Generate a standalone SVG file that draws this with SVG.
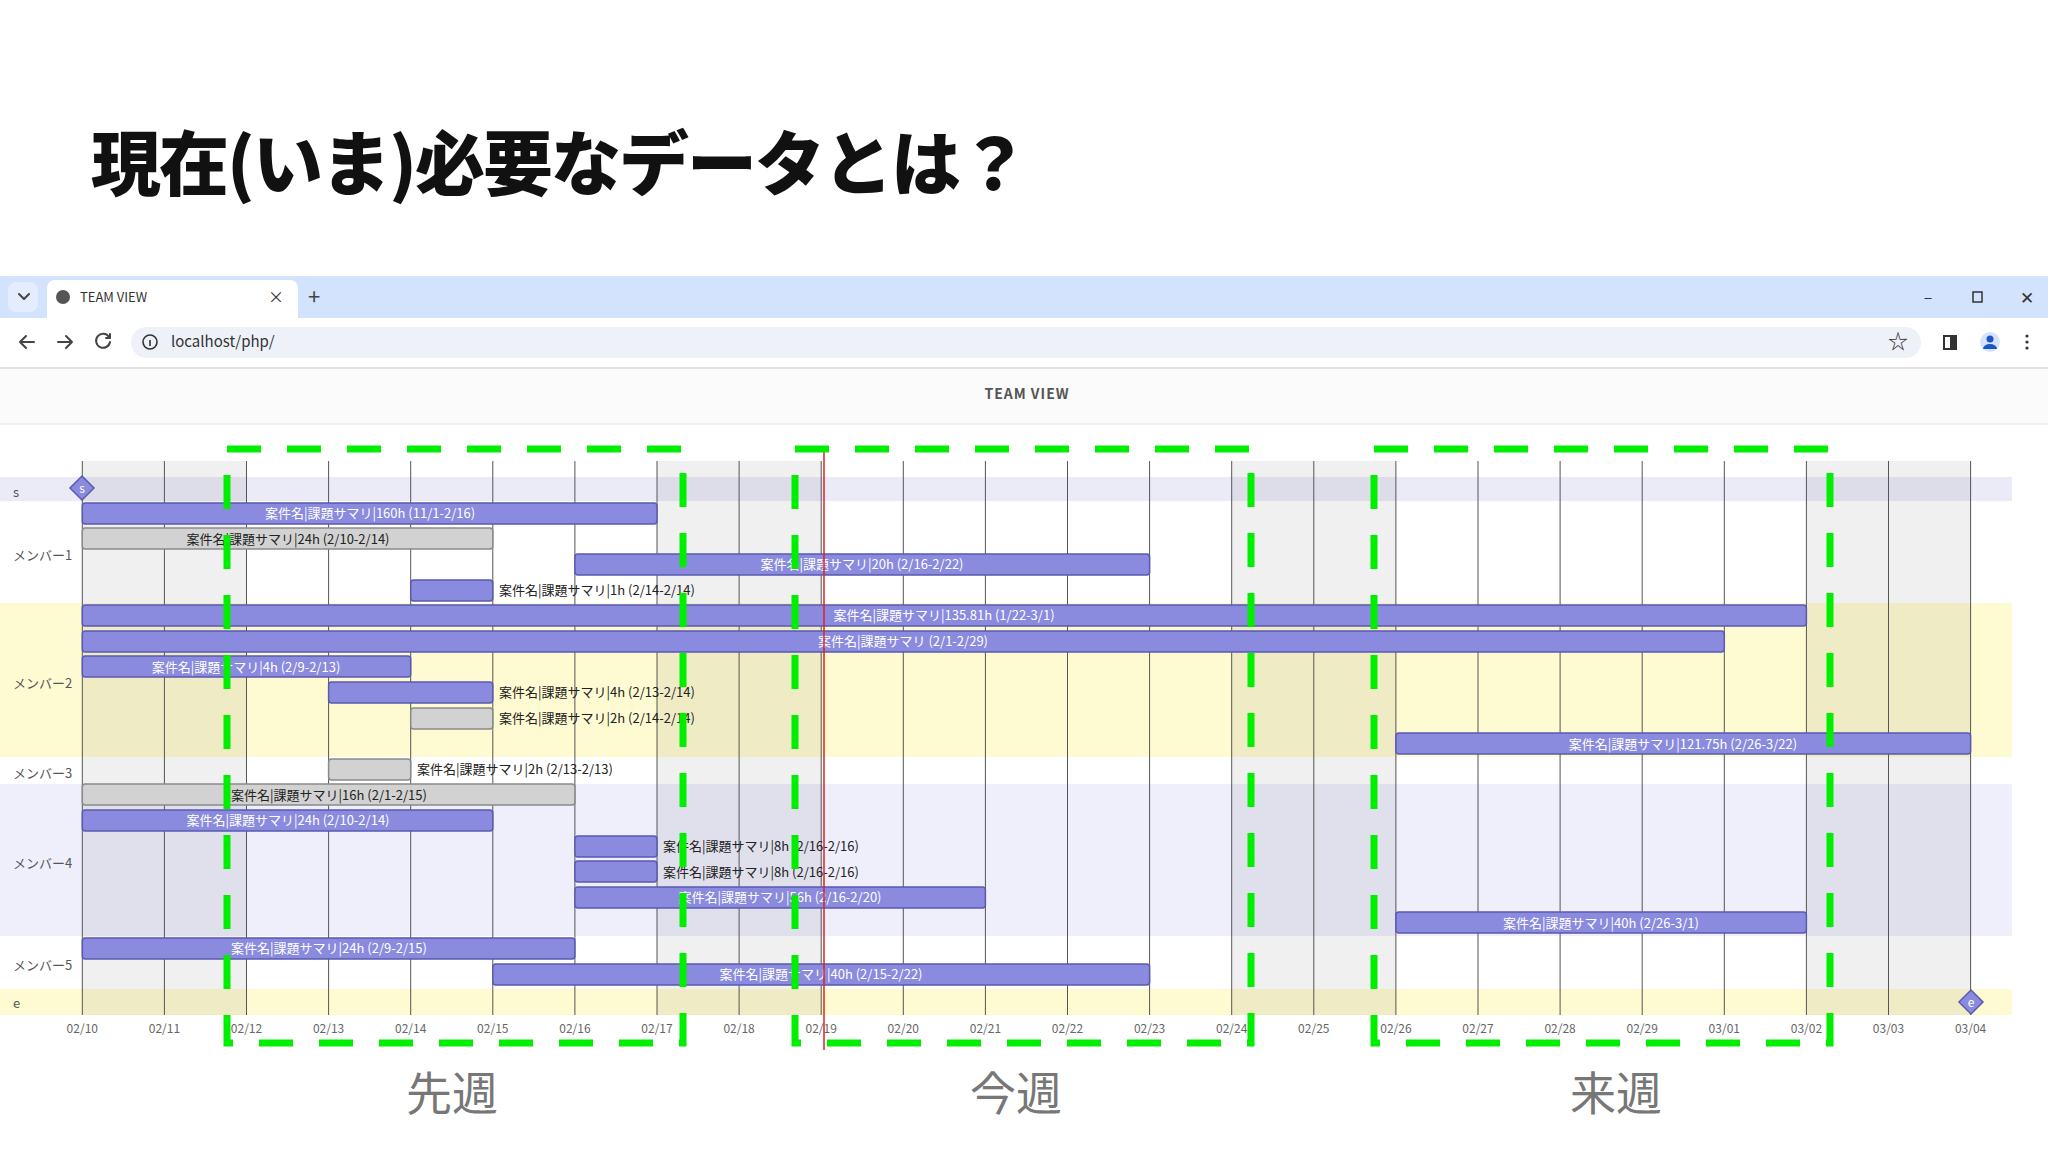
<svg xmlns="http://www.w3.org/2000/svg" width="2048" height="1152" viewBox="0 0 2048 1152">
<style>
text{font-family:"Noto Sans CJK JP","Liberation Sans",sans-serif}
.bp{fill:#8a8ade;stroke:#5a5ab0;stroke-width:1.5}
.bg{fill:#d2d2d2;stroke:#8a8a8a;stroke-width:1.5}
.li{fill:#fff;font-size:13px;text-anchor:middle}
.lo{fill:#222;font-size:13px}
.mem{fill:#555;font-size:13px}
.ax{fill:#666;font-size:12px;text-anchor:middle}
.grid{stroke:#555;stroke-width:1}
.wk{fill:#000;fill-opacity:0.06}
.gd{fill:none;stroke:#00ee00;stroke-width:7;stroke-dasharray:34 26}
.wl{fill:#777;font-size:46px;text-anchor:middle}
.ic{fill:none;stroke:#444;stroke-width:2;stroke-linecap:round;stroke-linejoin:round}
</style>
<rect width="2048" height="1152" fill="#fff"/>
<text x="91" y="190" font-size="70" font-weight="900" fill="#111" letter-spacing="-2">現在(いま)必要なデータとは？</text>

<g id="browser">
<rect x="0" y="276" width="2048" height="42" fill="#d3e3fd"/>
<rect x="8" y="282" width="30" height="30" rx="8" fill="#e4edfd"/>
<path class="ic" d="M19 294l5 5 5-5"/>
<path d="M47 318v-30a8 8 0 0 1 8-8h235a8 8 0 0 1 8 8v30z" fill="#fff"/>
<circle cx="63" cy="297" r="7" fill="#555"/>
<text x="80" y="302" font-size="13" fill="#333">TEAM VIEW</text>
<text x="276" y="303" font-size="16" fill="#333" text-anchor="middle">×</text>
<text x="314" y="305" font-size="22" fill="#444" text-anchor="middle">+</text>
<text x="1928" y="303" font-size="16" fill="#333" text-anchor="middle">–</text>
<rect x="1973" y="292" width="9" height="10" fill="none" stroke="#333" stroke-width="1.5"/>
<text x="2027" y="304" font-size="17" fill="#333" text-anchor="middle">✕</text>
<rect x="0" y="318" width="2048" height="50" fill="#fff"/>
<path class="ic" d="M34 342H20m6-6l-6 6 6 6"/>
<path class="ic" stroke="#999" d="M58 342h14m-6-6l6 6-6 6"/>
<path class="ic" d="M109 337a7 7 0 1 0 1 5M110 334v4h-4"/>
<rect x="131" y="327" width="1790" height="31" rx="15.5" fill="#eef1f8"/>
<circle cx="150" cy="342" r="7" fill="none" stroke="#333" stroke-width="1.6"/>
<line x1="150" y1="340" x2="150" y2="346" stroke="#333" stroke-width="1.6"/>
<text x="171" y="347" font-size="15" fill="#333">localhost/php/</text>
<text x="1898" y="349" font-size="20" fill="#333" text-anchor="middle">☆</text>
<rect x="1944" y="336" width="12" height="13" fill="none" stroke="#333" stroke-width="2"/>
<rect x="1950" y="336" width="6" height="13" fill="#333"/>
<circle cx="1990" cy="342" r="10" fill="#d6e3fb"/>
<circle cx="1990" cy="339" r="3.5" fill="#1a56c8"/>
<path d="M1983 349a7 5 0 0 1 14 0z" fill="#1a56c8"/>
<circle cx="2027" cy="336" r="1.6" fill="#333"/><circle cx="2027" cy="342" r="1.6" fill="#333"/><circle cx="2027" cy="348" r="1.6" fill="#333"/>
<line x1="0" y1="368" x2="2048" y2="368" stroke="#e2e2e2" stroke-width="2"/>
<rect x="0" y="369" width="2048" height="55" fill="#fbfbfb"/>
<text x="1027" y="399" font-size="14" font-weight="bold" fill="#555" text-anchor="middle" letter-spacing="1">TEAM VIEW</text>
<line x1="0" y1="424" x2="2048" y2="424" stroke="#ececec" stroke-width="1.5"/>
</g>

<g id="chart-bg">
<rect x="0" y="477" width="2012" height="24" fill="#ebebf8"/>
<rect x="0" y="603" width="2012" height="154" fill="#fefbd2"/>
<rect x="0" y="784" width="2012" height="152" fill="#eeeffb"/>
<rect x="0" y="989" width="2012" height="26" fill="#fefbd2"/>
<rect class="wk" x="82.3" y="461" width="164.2" height="554"/>
<rect class="wk" x="657" y="461" width="164.2" height="554"/>
<rect class="wk" x="1231.7" y="461" width="164.2" height="554"/>
<rect class="wk" x="1806.4" y="461" width="164.2" height="554"/>
<g class="grid">
<line x1="82.3" y1="461" x2="82.3" y2="1015"/><line x1="164.4" y1="461" x2="164.4" y2="1015"/><line x1="246.5" y1="461" x2="246.5" y2="1015"/><line x1="328.6" y1="461" x2="328.6" y2="1015"/><line x1="410.7" y1="461" x2="410.7" y2="1015"/><line x1="492.8" y1="461" x2="492.8" y2="1015"/><line x1="574.9" y1="461" x2="574.9" y2="1015"/><line x1="657" y1="461" x2="657" y2="1015"/><line x1="739.1" y1="461" x2="739.1" y2="1015"/><line x1="821.2" y1="461" x2="821.2" y2="1015"/><line x1="903.3" y1="461" x2="903.3" y2="1015"/><line x1="985.4" y1="461" x2="985.4" y2="1015"/><line x1="1067.5" y1="461" x2="1067.5" y2="1015"/><line x1="1149.6" y1="461" x2="1149.6" y2="1015"/><line x1="1231.7" y1="461" x2="1231.7" y2="1015"/><line x1="1313.8" y1="461" x2="1313.8" y2="1015"/><line x1="1395.9" y1="461" x2="1395.9" y2="1015"/><line x1="1478" y1="461" x2="1478" y2="1015"/><line x1="1560.1" y1="461" x2="1560.1" y2="1015"/><line x1="1642.2" y1="461" x2="1642.2" y2="1015"/><line x1="1724.3" y1="461" x2="1724.3" y2="1015"/><line x1="1806.4" y1="461" x2="1806.4" y2="1015"/><line x1="1888.5" y1="461" x2="1888.5" y2="1015"/><line x1="1970.6" y1="461" x2="1970.6" y2="1015"/>
</g>
<g class="ax">
<text x="82.3" y="1033">02/10</text><text x="164.4" y="1033">02/11</text><text x="246.5" y="1033">02/12</text><text x="328.6" y="1033">02/13</text><text x="410.7" y="1033">02/14</text><text x="492.8" y="1033">02/15</text><text x="574.9" y="1033">02/16</text><text x="657" y="1033">02/17</text><text x="739.1" y="1033">02/18</text><text x="821.2" y="1033">02/19</text><text x="903.3" y="1033">02/20</text><text x="985.4" y="1033">02/21</text><text x="1067.5" y="1033">02/22</text><text x="1149.6" y="1033">02/23</text><text x="1231.7" y="1033">02/24</text><text x="1313.8" y="1033">02/25</text><text x="1395.9" y="1033">02/26</text><text x="1478" y="1033">02/27</text><text x="1560.1" y="1033">02/28</text><text x="1642.2" y="1033">02/29</text><text x="1724.3" y="1033">03/01</text><text x="1806.4" y="1033">03/02</text><text x="1888.5" y="1033">03/03</text><text x="1970.6" y="1033">03/04</text>
</g>
<g class="mem">
<text x="13" y="497">s</text>
<text x="13" y="560">メンバー1</text>
<text x="13" y="688">メンバー2</text>
<text x="13" y="778">メンバー3</text>
<text x="13" y="868">メンバー4</text>
<text x="13" y="970">メンバー5</text>
<text x="13" y="1008">e</text>
</g>
</g>

<g id="milestone-s"><path d="M82 476l12 12-12 12-12-12z" fill="#8a8ade" stroke="#5a5ab0" stroke-width="1.5"/><text x="82" y="493" font-size="12" fill="#fff" text-anchor="middle">s</text></g>
<g id="milestone-e"><path d="M1971 990l12 12-12 12-12-12z" fill="#8a8ade" stroke="#5a5ab0" stroke-width="1.5"/><text x="1971" y="1007" font-size="12" fill="#fff" text-anchor="middle">e</text></g>

<g id="bars">
<g id="b1"><rect class="bp" x="82.3" y="503" width="574.7" height="21" rx="3"/><text class="li" x="370" y="518">案件名|課題サマリ|160h (11/1-2/16)</text></g>
<g id="b2"><rect class="bg" x="82.3" y="528" width="410.5" height="21" rx="3"/><text class="li" fill="#222" style="fill:#222" x="288" y="544">案件名|課題サマリ|24h (2/10-2/14)</text></g>
<g id="b3"><rect class="bp" x="574.9" y="554" width="574.7" height="21" rx="3"/><text class="li" x="862" y="569">案件名|課題サマリ|20h (2/16-2/22)</text></g>
<g id="b4"><rect class="bp" x="410.7" y="580" width="82.1" height="21" rx="3"/><text class="lo" x="499" y="595">案件名|課題サマリ|1h (2/14-2/14)</text></g>
<g id="b5"><rect class="bp" x="82.3" y="605" width="1724.1" height="21" rx="3"/><text class="li" x="944" y="620">案件名|課題サマリ|135.81h (1/22-3/1)</text></g>
<g id="b6"><rect class="bp" x="82.3" y="631" width="1642" height="21" rx="3"/><text class="li" x="903" y="646">案件名|課題サマリ (2/1-2/29)</text></g>
<g id="b7"><rect class="bp" x="82.3" y="656" width="328.4" height="21" rx="3"/><text class="li" x="246" y="672">案件名|課題サマリ|4h (2/9-2/13)</text></g>
<g id="b8"><rect class="bp" x="328.6" y="682" width="164.2" height="21" rx="3"/><text class="lo" x="499" y="697">案件名|課題サマリ|4h (2/13-2/14)</text></g>
<g id="b9"><rect class="bg" x="410.7" y="708" width="82.1" height="21" rx="3"/><text class="lo" x="499" y="723">案件名|課題サマリ|2h (2/14-2/14)</text></g>
<g id="b10"><rect class="bp" x="1395.9" y="733" width="574.7" height="21" rx="3"/><text class="li" x="1683" y="749">案件名|課題サマリ|121.75h (2/26-3/22)</text></g>
<g id="b11"><rect class="bg" x="328.6" y="759" width="82.1" height="21" rx="3"/><text class="lo" x="417" y="774">案件名|課題サマリ|2h (2/13-2/13)</text></g>
<g id="b12"><rect class="bg" x="82.3" y="784" width="492.6" height="21" rx="3"/><text class="li" style="fill:#222" x="329" y="800">案件名|課題サマリ|16h (2/1-2/15)</text></g>
<g id="b13"><rect class="bp" x="82.3" y="810" width="410.5" height="21" rx="3"/><text class="li" x="288" y="825">案件名|課題サマリ|24h (2/10-2/14)</text></g>
<g id="b14"><rect class="bp" x="574.9" y="836" width="82.1" height="21" rx="3"/><text class="lo" x="663" y="851">案件名|課題サマリ|8h (2/16-2/16)</text></g>
<g id="b15"><rect class="bp" x="574.9" y="861" width="82.1" height="21" rx="3"/><text class="lo" x="663" y="877">案件名|課題サマリ|8h (2/16-2/16)</text></g>
<g id="b16"><rect class="bp" x="574.9" y="887" width="410.5" height="21" rx="3"/><text class="li" x="780" y="902">案件名|課題サマリ|56h (2/16-2/20)</text></g>
<g id="b17"><rect class="bp" x="1395.9" y="912" width="410.5" height="21" rx="3"/><text class="li" x="1601" y="928">案件名|課題サマリ|40h (2/26-3/1)</text></g>
<g id="b18"><rect class="bp" x="82.3" y="938" width="492.6" height="21" rx="3"/><text class="li" x="329" y="953">案件名|課題サマリ|24h (2/9-2/15)</text></g>
<g id="b19"><rect class="bp" x="492.8" y="964" width="656.8" height="21" rx="3"/><text class="li" x="821" y="979">案件名|課題サマリ|40h (2/15-2/22)</text></g>
</g>

<line id="today" x1="824" y1="452" x2="824" y2="1050" stroke="#d22" stroke-width="1.5"/>

<g id="weeks">
<rect class="gd" x="227" y="449" width="456" height="594"/>
<rect class="gd" x="795" y="449" width="456" height="594"/>
<rect class="gd" x="1374" y="449" width="456" height="594"/>
<text class="wl" x="452" y="1110">先週</text>
<text class="wl" x="1016" y="1110">今週</text>
<text class="wl" x="1616" y="1110">来週</text>
</g>
</svg>
